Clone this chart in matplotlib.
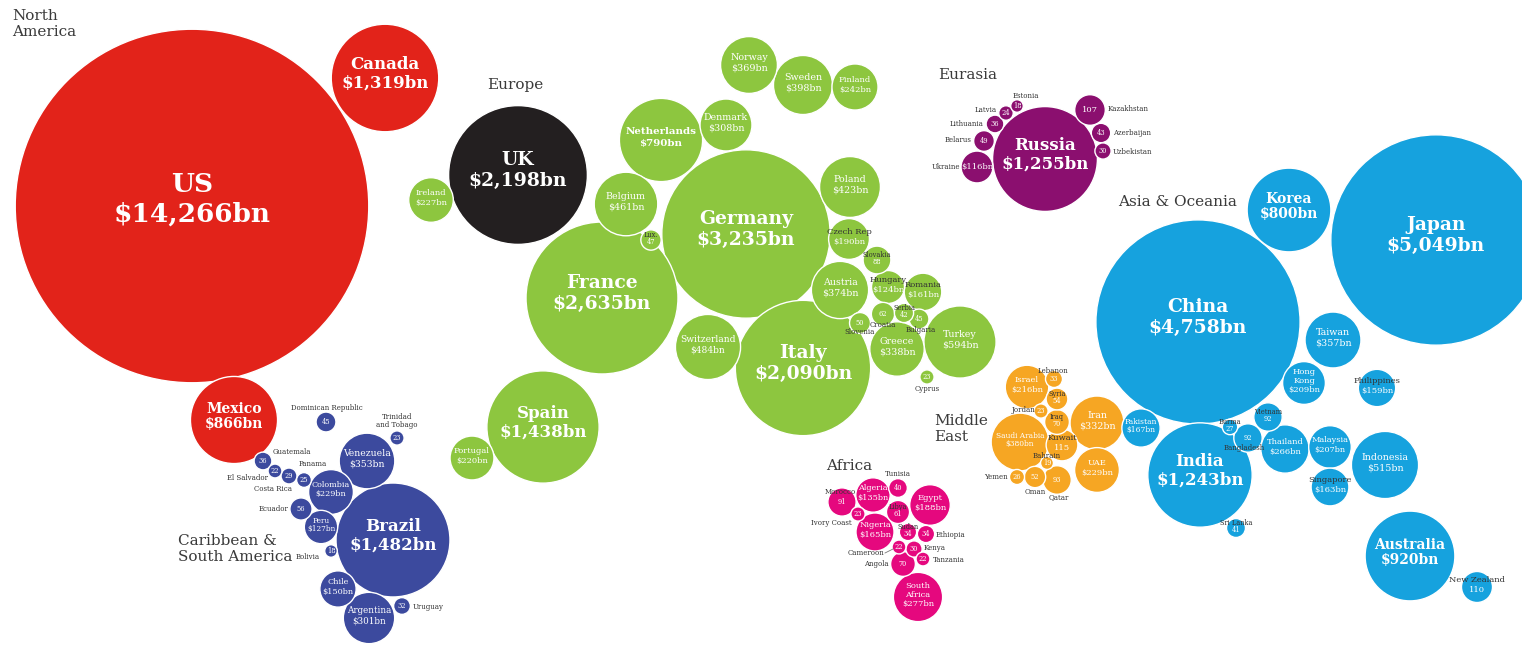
import numpy as np
import matplotlib
matplotlib.use("Agg")
import matplotlib.pyplot as plt
from matplotlib.patches import Circle

# ---------------- data (GDP, $bn) ----------------
na_names = ["US", "Canada", "Mexico"]
na_gdp = [14266, 1319, 866]

sa_names = ["Brazil", "Venezuela", "Argentina", "Colombia", "Chile", "Peru", "Ecuador",
            "Dominican Republic", "Guatemala", "Uruguay", "Costa Rica", "Panama",
            "Trinidad and Tobago", "El Salvador", "Bolivia"]
sa_gdp = [1482, 353, 301, 229, 150, 127, 56, 45, 36, 32, 29, 25, 23, 22, 18]

eu_names = ["Germany", "France", "UK", "Italy", "Spain", "Netherlands", "Turkey", "Switzerland",
            "Belgium", "Poland", "Sweden", "Austria", "Norway", "Greece", "Denmark", "Finland",
            "Ireland", "Portugal", "Czech Rep", "Romania", "Hungary", "Slovakia", "Croatia",
            "Slovenia", "Lux.", "Bulgaria", "Serbia", "Cyprus"]
eu_gdp = [3235, 2635, 2198, 2090, 1438, 790, 594, 484, 461, 423, 398, 374, 369, 338, 308, 242,
          227, 220, 190, 161, 124, 88, 62, 50, 47, 45, 42, 23]

ea_names = ["Russia", "Ukraine", "Kazakhstan", "Belarus", "Azerbaijan", "Lithuania",
            "Uzbekistan", "Latvia", "Estonia"]
ea_gdp = [1255, 116, 107, 49, 43, 36, 30, 24, 18]

me_names = ["Saudi Arabia", "Iran", "UAE", "Israel", "Kuwait", "Qatar", "Iraq", "Syria", "Oman",
            "Lebanon", "Yemen", "Jordan", "Bahrain"]
me_gdp = [380, 332, 229, 216, 115, 93, 70, 54, 52, 33, 26, 23, 19]

af_names = ["South Africa", "Egypt", "Nigeria", "Algeria", "Morocco", "Angola", "Libya", "Tunisia",
            "Sudan", "Ethiopia", "Kenya", "Ivory Coast", "Cameroon", "Tanzania"]
af_gdp = [277, 188, 165, 135, 91, 70, 61, 40, 34, 34, 30, 23, 22, 22]

as_names = ["Japan", "China", "India", "Australia", "Korea", "Indonesia", "Taiwan", "Thailand",
            "Hong Kong", "Malaysia", "Pakistan", "Singapore", "Philippines", "New Zealand",
            "Vietnam", "Bangladesh", "Sri Lanka", "Burma"]
as_gdp = [5049, 4758, 1243, 920, 800, 515, 357, 266, 209, 207, 167, 163, 159, 110, 92, 92, 41, 27]

# ---------------- styling / layout ----------------
REGIONS = [
    (na_names, na_gdp, "#e2231a"),
    (sa_names, sa_gdp, "#3c4a9e"),
    (eu_names, eu_gdp, "#8dc63f"),
    (ea_names, ea_gdp, "#8b0f6f"),
    (me_names, me_gdp, "#f6a623"),
    (af_names, af_gdp, "#e5087e"),
    (as_names, as_gdp, "#16a2de"),
]
SPECIAL_COLOR = {"UK": "#231f20"}
DISPLAY = {"Hong Kong": "Hong\nKong", "South Africa": "South\nAfrica",
           "Trinidad and Tobago": "Trinidad\nand Tobago"}
SHORT_VALUE = {"Kazakhstan", "New Zealand", "Kuwait"}

# centre x, centre y (pixels), label mode, [outside label x, y, ha]
L = {
    "US": (192, 206, "in"), "Canada": (385, 78, "in"), "Mexico": (234, 420, "in"),
    "Brazil": (393, 540, "in"), "Venezuela": (367, 461, "in"), "Colombia": (331, 492, "in"),
    "Peru": (321, 527, "in"), "Chile": (338, 589, "in"), "Argentina": (369, 618, "in"),
    "Ecuador": (301, 509, "out", 289, 509, "right"),
    "Bolivia": (331, 551, "out", 320, 557, "right"),
    "Uruguay": (402, 606, "out", 413, 607, "left"),
    "Trinidad and Tobago": (397, 438, "out", 397, 421, "center"),
    "Dominican Republic": (326, 422, "out", 327, 408, "center"),
    "Guatemala": (263, 461, "out", 273, 452, "left"),
    "El Salvador": (275, 471, "out", 268, 478, "right"),
    "Costa Rica": (289, 476, "out", 292, 489, "right"),
    "Panama": (304, 480, "out", 313, 464, "center"),
    "UK": (518, 175, "in"), "Ireland": (431, 200, "in"), "Netherlands": (661, 140, "in"),
    "Belgium": (626, 204, "in"), "Lux.": (651, 240, "dark"), "Germany": (746, 234, "in"),
    "France": (602, 298, "in"), "Spain": (543, 427, "in"), "Portugal": (472, 458, "in"),
    "Switzerland": (708, 347, "in"), "Italy": (803, 368, "in"), "Denmark": (726, 125, "in"),
    "Norway": (749, 65, "in"), "Sweden": (803, 85, "in"), "Finland": (855, 87, "in"),
    "Poland": (850, 187, "in"), "Czech Rep": (849, 239, "dark"), "Slovakia": (877, 260, "dark"),
    "Austria": (840, 290, "in"), "Hungary": (888, 287, "dark"), "Romania": (923, 292, "dark"),
    "Serbia": (904, 313, "dark"),
    "Croatia": (883, 314, "out", 883, 325, "center"),
    "Slovenia": (860, 323, "out", 860, 332, "center"),
    "Bulgaria": (919, 319, "out", 921, 330, "center"),
    "Greece": (897, 349, "in"), "Turkey": (960, 342, "in"),
    "Cyprus": (927, 377, "out", 927, 389, "center"),
    "Russia": (1045, 159, "in"),
    "Ukraine": (977, 167, "out", 960, 167, "right"),
    "Belarus": (984, 141, "out", 972, 140, "right"),
    "Lithuania": (995, 124, "out", 984, 124, "right"),
    "Latvia": (1006, 113, "out", 997, 110, "right"),
    "Estonia": (1017, 106, "out", 1026, 96, "center"),
    "Kazakhstan": (1090, 110, "out", 1108, 109, "left"),
    "Azerbaijan": (1101, 133, "out", 1113, 133, "left"),
    "Uzbekistan": (1103, 151, "out", 1113, 152, "left"),
    "Israel": (1027, 387, "in"),
    "Lebanon": (1054, 379, "out", 1053, 371, "center"),
    "Syria": (1057, 399, "dark"),
    "Jordan": (1041, 411, "out", 1035, 410, "right"),
    "Iraq": (1057, 422, "dark"), "Iran": (1097, 423, "in"), "Saudi Arabia": (1020, 442, "in"),
    "Kuwait": (1062, 445, "dark"),
    "Bahrain": (1047, 463, "out", 1047, 456, "center"),
    "UAE": (1097, 470, "in"),
    "Yemen": (1017, 477, "out", 1008, 477, "right"),
    "Oman": (1035, 477, "out", 1035, 492, "center"),
    "Qatar": (1057, 480, "out", 1059, 497, "center"),
    "China": (1198, 322, "in"), "Japan": (1436, 240, "in"), "Korea": (1289, 210, "in"),
    "Taiwan": (1333, 340, "in"), "Hong Kong": (1304, 383, "in"),
    "Philippines": (1377, 388, "dark"), "India": (1200, 475, "in"),
    "Pakistan": (1141, 428, "in"), "Burma": (1230, 427, "dark"),
    "Bangladesh": (1248, 438, "out", 1244, 448, "center"),
    "Vietnam": (1268, 417, "dark"), "Thailand": (1285, 449, "in"),
    "Malaysia": (1330, 447, "in"), "Singapore": (1330, 487, "dark"),
    "Indonesia": (1385, 465, "in"), "Sri Lanka": (1236, 528, "dark"),
    "Australia": (1410, 556, "in"), "New Zealand": (1477, 587, "dark"),
    "Morocco": (842, 502, "out", 840, 492, "center"),
    "Algeria": (873, 495, "in"),
    "Tunisia": (898, 488, "out", 898, 474, "center"),
    "Libya": (898, 512, "dark"), "Egypt": (930, 505, "in"),
    "Ivory Coast": (858, 514, "out", 852, 523, "right"),
    "Nigeria": (875, 532, "in"), "Sudan": (908, 532, "dark"),
    "Ethiopia": (926, 534, "out", 936, 535, "left"),
    "Cameroon": (899, 547, "out", 884, 553, "right"),
    "Kenya": (914, 549, "out", 924, 548, "left"),
    "Angola": (903, 564, "out", 889, 564, "right"),
    "Tanzania": (923, 559, "out", 933, 560, "left"),
    "South Africa": (918, 597, "in"),
}

REGION_LABELS = [
    ("North\nAmerica", 12, 24), ("Caribbean &\nSouth America", 178, 549), ("Europe", 487, 85),
    ("Eurasia", 938, 75), ("Asia & Oceania", 1118, 202), ("Middle\nEast", 934, 429),
    ("Africa", 826, 466),
]

K = 1.48          # radius scale: r = K * sqrt(value)
FONT = "DejaVu Serif"
DARK = "#333333"


def font_size(r):
    if r >= 150:
        return 19
    if r >= 60:
        return 13.5
    if r >= 50:
        return 12
    if r >= 40:
        return 10
    if r >= 25:
        return 6.8
    if r >= 15:
        return 6.0
    return 4.8


def weight_for(fs):
    return "bold" if fs >= 9 else "normal"


fig = plt.figure(figsize=(15.22, 6.54), dpi=100)
ax = fig.add_axes([0, 0, 1, 1])
ax.set_xlim(0, 1522)
ax.set_ylim(654, 0)
ax.axis("off")
renderer = fig.canvas.get_renderer()

for names, vals, col in REGIONS:
    for name, v in zip(names, vals):
        lay = L[name]
        cx, cy, mode = lay[0], lay[1], lay[2]
        r = K * np.sqrt(v)
        c = SPECIAL_COLOR.get(name, col)
        ax.add_patch(Circle((cx, cy), r, facecolor=c, edgecolor="white", lw=1.0, zorder=2))
        fs = font_size(r)
        vtxt = str(v) if (v < 100 or name in SHORT_VALUE) else f"${v:,}bn"
        disp = DISPLAY.get(name, name)
        if mode == "out":
            ax.text(cx, cy, vtxt, color="white", fontsize=fs, family=FONT,
                    ha="center", va="center", zorder=4)
            ax.text(lay[3], lay[4], disp, color=DARK, fontsize=5, family=FONT,
                    ha=lay[5], va="center", zorder=5, linespacing=1.0)
            if name == "Cameroon":
                ax.plot([lay[3] + 1, cx - 6], [lay[4], cy + 2], color="#777777", lw=0.6, zorder=5)
        else:
            lines = disp.split("\n") + [vtxt]
            wt = weight_for(fs)
            # shrink the font if the widest line does not fit inside the bubble
            if mode == "in":
                probe = ax.text(0, 0, max(lines, key=len), fontsize=fs, family=FONT, weight=wt)
                w = probe.get_window_extent(renderer).width
                probe.remove()
                if w > 1.72 * r:
                    fs = max(4.3, fs * 1.72 * r / w)
            fsp = fs * 100 / 72
            ncol = "white" if mode == "in" else DARK
            h = 1.12 * fsp
            n = len(lines)
            mid = cy - 0.25 * fsp
            for i, t in enumerate(lines):
                y = mid + (i - (n - 1) / 2) * h
                ax.text(cx, y, t, color=("white" if i == n - 1 else ncol), fontsize=fs,
                        family=FONT, weight=wt, ha="center", va="center", zorder=4)

for txt, x, y in REGION_LABELS:
    ax.text(x, y, txt, color="#3a3a3a", fontsize=11, family=FONT, ha="left", va="center",
            linespacing=1.1, zorder=6)

fig.savefig("out.png", dpi=100, facecolor="white")
